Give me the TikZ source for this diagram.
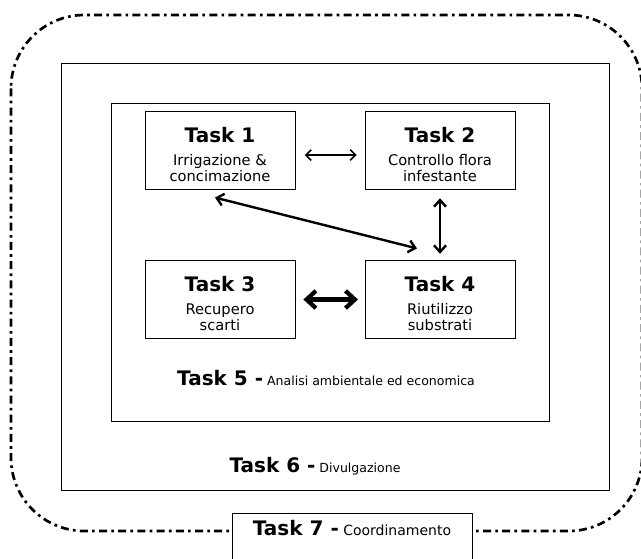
\documentclass[tikz,border=0pt]{standalone}
\usepackage{fontspec}
\setmainfont{DejaVu Sans}
\usetikzlibrary{positioning,arrows.meta,calc}

\newcommand{\tasktitle}[1]{{\fontsize{15}{18}\selectfont\bfseries\rule{0pt}{17pt}#1}}
\newcommand{\tasklabel}[1]{{\fontsize{15}{18}\selectfont\bfseries #1}}

\begin{document}
\begin{tikzpicture}[
    x=0.75pt, y=-0.75pt,
    font={\fontsize{11}{12}\selectfont},
    task/.style={draw,line width=0.6pt,rectangle,minimum width=112.5pt,minimum height=58pt,align=center,inner sep=0pt},
    frame/.style={draw,line width=0.6pt},
    border/.style={draw,line width=2pt,dash pattern=on 6pt off 3.2pt on 2pt off 3.2pt,rounded corners=55pt},
    lbl/.style={font={\fontsize{9.4}{11}\selectfont},anchor=base,inner sep=0pt},
    thin/.style={<->,>={Straight Barb[length=4pt,width=8pt]},line width=1.2pt},
    mid/.style={<->,>={Straight Barb[length=5pt,width=9pt]},line width=1.8pt},
    thick/.style={<->,>={Straight Barb[length=7pt,width=13pt]},line width=3.2pt}
]

    \useasboundingbox (0,0) rectangle (641,558);

    % outer frames
    \draw[border] (11,15) rectangle (642,531);
    \draw[frame] (61,63) rectangle (609,490);
    \draw[frame] (111,103) rectangle (549,421);

    \node[task] (t1) at (220,150.5) {\tasktitle{Task 1}\\[5pt] Irrigazione \&\\ concimazione};
    \node[task] (t2) at (440,150.5) {\tasktitle{Task 2}\\[5pt] Controllo flora\\ infestante};
    \node[task] (t3) at (220,299.5) {\tasktitle{Task 3}\\[5pt] Recupero\\ scarti};
    \node[task] (t4) at (440,299.5) {\tasktitle{Task 4}\\[5pt] Riutilizzo\\ substrati};

    \draw[thin,shorten <=7pt,shorten >=6pt] ([yshift=-3.4pt]t1.east) -- ([yshift=-3.4pt]t2.west);
    \draw[mid] ($(t1.south)+(-5,8)$) -- ($(t4.north)+(-23,-12)$);
    \draw[mid,shorten <=6.5pt,shorten >=5pt] (t2.south) -- (t4.north);
    \draw[thick,shorten <=6pt,shorten >=5pt] (t3.east) -- (t4.west);

    \node[lbl] (t5) at (326,385) {\tasklabel{Task 5 -} Analisi ambientale ed economica};
    \node[lbl] (t6) at (315,472) {\tasklabel{Task 6 -} Divulgazione};

    \node[draw,line width=0.6pt,fill=white,anchor=north,minimum width=180pt,inner ysep=5pt,text depth=17pt,font={\fontsize{10.5}{12}\selectfont}]
        (t7) at (352,513) {\tasklabel{Task 7 -} Coordinamento};

\end{tikzpicture}
\end{document}
